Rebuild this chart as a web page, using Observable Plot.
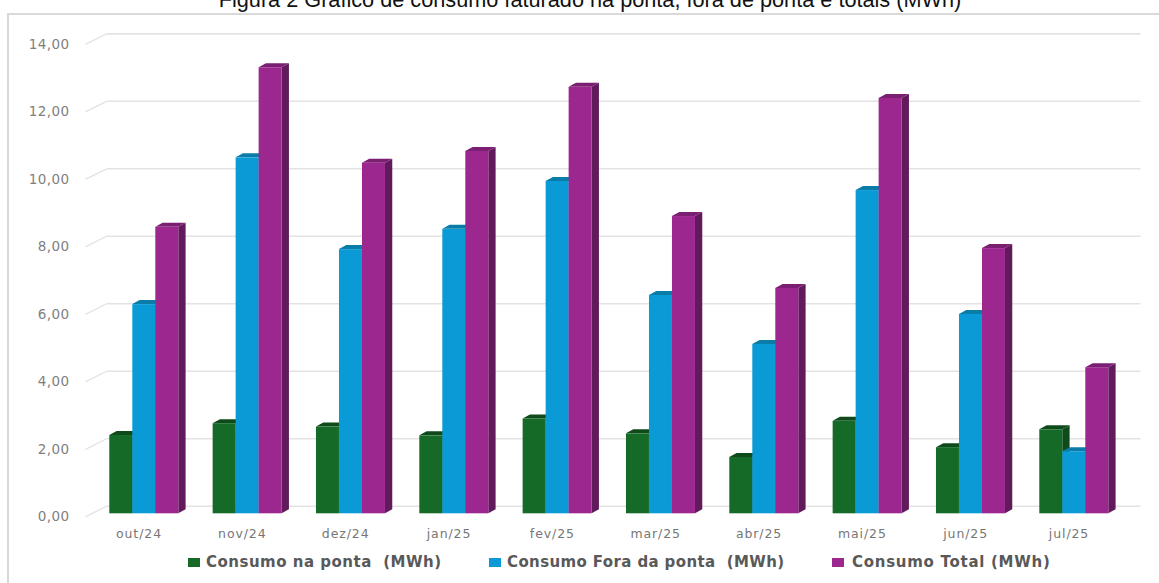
<!DOCTYPE html>
<html>
<head>
<meta charset="utf-8">
<script src="https://cdn.jsdelivr.net/npm/d3@7"></script>
<script src="https://cdn.jsdelivr.net/npm/@observablehq/plot@0.6"></script>
<style>
html,body{margin:0;padding:0;background:#fff;}
body{position:relative;width:1159px;height:583px;overflow:hidden;}
#title{position:absolute;left:0;right:0;top:-13px;padding-left:21px;text-align:center;font:21.7px/25px "Liberation Sans",Arial,sans-serif;color:#111;white-space:nowrap;z-index:2;}
#box{position:absolute;left:7px;top:13px;right:-4px;bottom:-4px;border:2px solid #d9d9d9;box-sizing:border-box;z-index:1;}
#chart{position:absolute;left:0;top:0;z-index:2;}
.lg{position:absolute;top:553px;font:bold 15px/18px "DejaVu Sans",sans-serif;color:#595959;white-space:pre;z-index:3;}
.sw{position:absolute;top:558px;width:12px;height:9px;z-index:3;}
svg text{font-family:"DejaVu Sans",sans-serif;}
g[aria-label="x-axis tick label"] text{letter-spacing:.9px;}
g[aria-label="y-axis tick label"] text{letter-spacing:.4px;}
</style>
</head>
<body>
<div id="title">Figura 2 Gráfico de consumo faturado na ponta, fora de ponta e totais (MWh)</div>
<div id="box"></div>
<div id="chart"></div>
<div id="legend"></div>
<script>
const months = ["out/24","nov/24","dez/24","jan/25","fev/25","mar/25","abr/25","mai/25","jun/25","jul/25"];
const ponta = [2.32,2.67,2.57,2.31,2.81,2.37,1.67,2.74,1.96,2.49];
const foraPonta = [6.20,10.55,7.83,8.43,9.85,6.47,5.02,9.58,5.91,1.84];
const total = [8.49,13.22,10.39,10.74,12.64,8.81,6.68,12.31,7.86,4.33];
const yTicks = [0,2,4,6,8,10,12,14];
const seriesNames = ["Consumo na ponta  (MWh)","Consumo Fora da ponta  (MWh)","Consumo Total (MWh)"];
const seriesFront = ["#156A27","#0A9BD6","#9C278F"];
const seriesSide = ["#0F4A1B","#086F9A","#611A5C"];
const seriesTop = ["#0F4A1B","#0A7CA8","#7A1F72"];

const valueSets = [ponta, foraPonta, total];
const pxX = 103.33, pxY = 33.74;
const barW = 23/pxX, startX = -29.2/pxX;
const depthX = 7.3/pxX, depthY = 4/pxY;
const backY = 7.6/pxY, frontTickY = -3/pxY;
const gridL = -32.5/pxX, diagL = -53.5/pxX, gridR = 1140;

const marks = [];
marks.push(Plot.link(yTicks,{x1:gridL,x2:(gridR-138.5)/pxX,y1:d=>d+backY,y2:d=>d+backY,stroke:"#e3e3e3",strokeWidth:1.6}));
marks.push(Plot.link(yTicks,{x1:diagL,x2:gridL,y1:d=>d+frontTickY,y2:d=>d+backY,stroke:"#e3e3e3",strokeWidth:1.3}));

valueSets.forEach((vals,s)=>{
  const left = i=>i+startX+s*barW;
  const idx = vals.map((_,i)=>i);
  const side = idx.flatMap(i=>[
    {b:i,x:left(i)+barW,y1:0,y2:vals[i]},
    {b:i,x:left(i)+barW+depthX,y1:depthY,y2:vals[i]+depthY}
  ]);
  const top = idx.flatMap(i=>[
    {b:i,y:vals[i],x1:left(i),x2:left(i)+barW},
    {b:i,y:vals[i]+depthY,x1:left(i)+depthX,x2:left(i)+barW+depthX}
  ]);
  marks.push(Plot.areaY(side,{x:"x",y1:"y1",y2:"y2",z:"b",fill:seriesSide[s]}));
  marks.push(Plot.areaX(top,{y:"y",x1:"x1",x2:"x2",z:"b",fill:seriesTop[s]}));
  marks.push(Plot.rect(idx,{x1:i=>left(i),x2:i=>left(i)+barW,y1:0,y2:i=>vals[i],fill:seriesFront[s]}));
});

marks.push(Plot.axisY({ticks:yTicks,tickSize:0,tickPadding:16,dy:3,tickFormat:d=>d.toFixed(2).replace(".",","),fill:"#7f7f7f",fontSize:13.5,label:null}));
marks.push(Plot.axisX({ticks:d3.range(months.length),tickSize:0,tickPadding:16,tickFormat:i=>months[i],fill:"#767676",fontSize:12.5,label:null}));

const plot = Plot.plot({
  width:1159,height:583,
  marginLeft:85,marginRight:0,marginTop:0,marginBottom:70,
  style:{background:"transparent",overflow:"visible"},
  x:{type:"linear",domain:[0,9],range:[138.5,1068.5]},
  y:{type:"linear",domain:[0,14],range:[513.3,513.3-14*pxY]},
  marks
});
document.getElementById("chart").appendChild(plot);

const swLeft=[188,489,832], txtLeft=[206,507,852], spacing=[0.5,0.38,0.72];
const leg=document.getElementById("legend");
seriesNames.forEach((n,s)=>{
  const sw=document.createElement("div");sw.className="sw";sw.style.left=swLeft[s]+"px";sw.style.background=seriesFront[s];leg.appendChild(sw);
  const t=document.createElement("div");t.className="lg";t.style.left=txtLeft[s]+"px";t.style.letterSpacing=spacing[s]+"px";t.textContent=n;leg.appendChild(t);
});
</script>
</body>
</html>
